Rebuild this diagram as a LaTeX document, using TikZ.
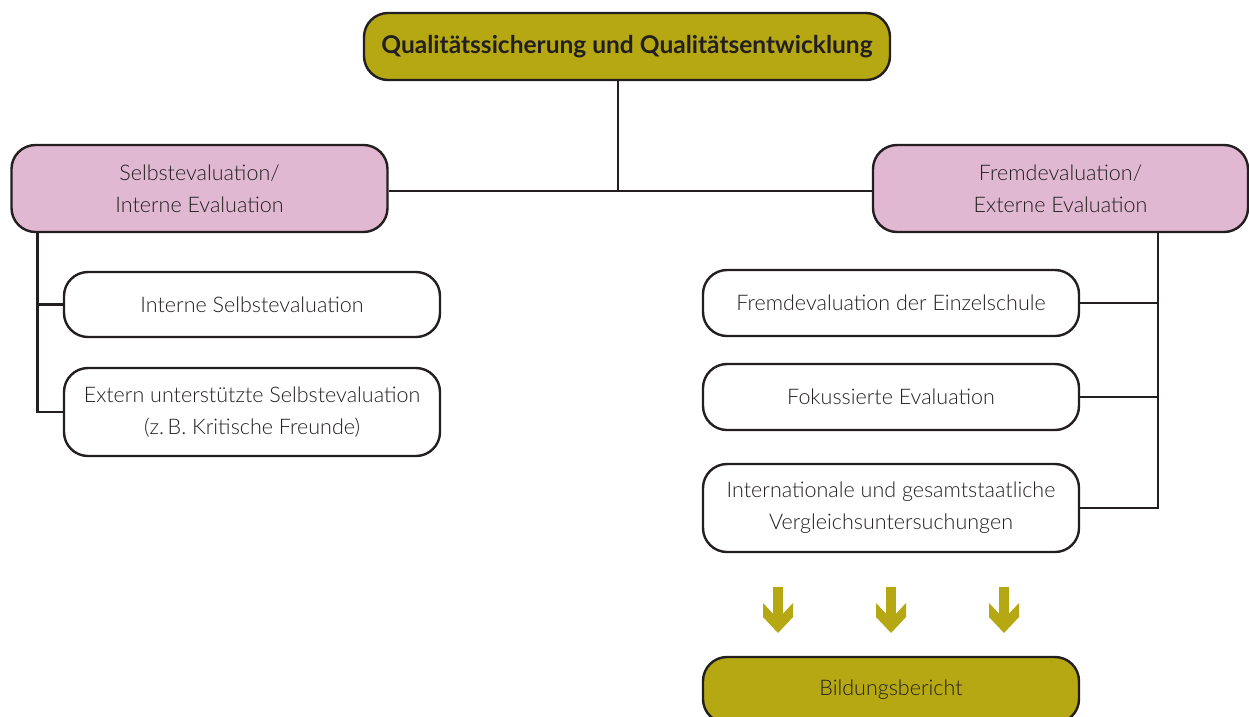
\documentclass[tikz,border=0pt]{standalone}
\usepackage{fontspec}
\setmainfont{Lato Light}
\newfontfamily\titlefont{Lato Bold}
\definecolor{olive}{HTML}{B5A812}
\definecolor{pinkbox}{HTML}{E0B8D2}
\definecolor{ink}{HTML}{231F20}
\begin{document}
\begin{tikzpicture}[x=1pt,y=-1pt,
  box/.style={draw=ink,line width=2.4pt,rounded corners=24pt,align=center,
    inner sep=0pt,font=\fontsize{21.5}{32}\selectfont,text=ink},
  wbox/.style={box,fill=white,minimum width=376pt},
  pbox/.style={box,fill=pinkbox,minimum width=376pt,minimum height=87pt},
  obox/.style={box,fill=olive},
  conn/.style={draw=ink,line width=2.4pt},
  arr/.style={fill=olive}]
\useasboundingbox (0,0) rectangle (1249,716);
\node[obox,minimum width=526pt,minimum height=67pt,font=\titlefont\fontsize{24.5}{28}\selectfont] (T) at (627,46.5) {Qualitätssicherung und Qualitätsentwicklung};
\node[pbox] (LP) at (199.5,188.5) {Selbstevaluation/\\Interne Evaluation};
\node[pbox,minimum width=375pt] (RP) at (1060.5,188.5) {Fremdevaluation/\\Externe Evaluation};
\node[wbox,minimum height=65pt] (LW1) at (252,304.5) {Interne Selbstevaluation};
\node[wbox,minimum height=88pt] (LW2) at (252,412) {Extern unterstützte Selbstevaluation\\(z.\,B. Kritische Freunde)};
\node[wbox,minimum height=66pt] (RW1) at (891,303) {Fremdevaluation der Einzelschule};
\node[wbox,minimum height=66pt] (RW2) at (891,397) {Fokussierte Evaluation};
\node[wbox,minimum height=88pt] (RW3) at (891,508) {Internationale und gesamtstaatliche\\Vergleichsuntersuchungen};
\node[obox,minimum width=376pt,minimum height=66pt] (B) at (891,690) {Bildungsbericht};
% connectors
\coordinate (TS) at ([xshift=-9pt]T.south);
\coordinate (HL) at ([yshift=-2.5pt]LP.east);
\coordinate (HR) at ([yshift=-2.5pt]RP.west);
\draw[conn] (TS) -- (TS |- HL);
\draw[conn] (HL) -- (HR);
\coordinate (LS) at ([xshift=27pt]LP.south west);
\draw[conn] (LS) |- (LW1.west);
\draw[conn] (LS) |- (LW2.west);
\coordinate (RS) at ([xshift=-91pt]RP.south east);
\draw[conn] (RS) |- (RW1.east);
\draw[conn] (RS) |- (RW2.east);
\draw[conn] (RS) |- (RW3.east);
% arrows
\foreach \x in {778,891,1004}{
  \fill[arr] (\x-5,587) rectangle (\x+5,624);
  \fill[arr] (\x-15,603) -- (\x,619) -- (\x+15,603) -- (\x+15,617) -- (\x,633) -- (\x-15,617) -- cycle;
}
\end{tikzpicture}
\end{document}
